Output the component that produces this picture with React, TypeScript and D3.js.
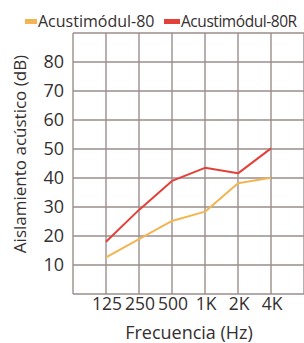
import { useEffect, useRef } from "react";
import * as d3 from "d3";

const categories = ["125", "250", "500", "1K", "2K", "4K"];
const series80 = [12.6, 18.9, 25.2, 28.4, 38.2, 40.1];
const series80R = [18, 29, 39, 43.5, 41.6, 50.2];
const yTicks = [10, 20, 30, 40, 50, 60, 70, 80];
const seriesNames = ["Acustimódul-80", "Acustimódul-80R"];
const seriesColors = ["#f2b552", "#e4403a"];

export default function App() {
  const ref = useRef<SVGSVGElement>(null);

  useEffect(() => {
    document.body.style.margin = "0";
    const svg = d3.select(ref.current);
    svg.selectAll("*").remove();

    const font = "'Open Sans', sans-serif";
    const textColor = "#352f2f";
    const gridColor = "#9b8d8d";

    const x = d3.scaleLinear().domain([-1, 6]).range([73, 304]);
    const y = d3.scaleLinear().domain([0, 90]).range([294, 33]);

    const g = svg.append("g");

    // grid horizontal
    g.selectAll("line.h")
      .data(d3.range(0, 100, 10))
      .join("line")
      .attr("x1", x(-1))
      .attr("x2", x(7))
      .attr("y1", (d) => y(d))
      .attr("y2", (d) => y(d))
      .attr("stroke", gridColor)
      .attr("stroke-width", 1.4);

    // grid vertical
    g.selectAll("line.v")
      .data(d3.range(-1, 7))
      .join("line")
      .attr("x1", (d) => x(d))
      .attr("x2", (d) => x(d))
      .attr("y1", y(0))
      .attr("y2", y(90))
      .attr("stroke", gridColor)
      .attr("stroke-width", 1.4);

    const line = d3
      .line<number>()
      .x((_, i) => x(i))
      .y((d) => y(d));

    [series80, series80R].forEach((s, i) => {
      g.append("path")
        .attr("d", line(s) || "")
        .attr("fill", "none")
        .attr("stroke", seriesColors[i])
        .attr("stroke-width", 2)
        .attr("stroke-linejoin", "round");
    });

    // y tick labels
    g.selectAll("text.y")
      .data(yTicks)
      .join("text")
      .attr("x", 64)
      .attr("y", (d) => y(d))
      .attr("dy", "0.36em")
      .attr("text-anchor", "end")
      .attr("font-family", font)
      .attr("font-size", 18)
      .attr("font-weight", 500)
      .attr("fill", textColor)
      .text((d) => d);

    // x tick labels
    g.selectAll("text.x")
      .data(categories)
      .join("text")
      .attr("x", (_, i) => x(i) + 1)
      .attr("y", 310)
      .attr("text-anchor", "middle")
      .attr("font-family", font)
      .attr("font-size", 17.5)
      .attr("font-weight", 500)
      .attr("fill", textColor)
      .text((d) => d);

    g.append("text")
      .attr("x", 189)
      .attr("y", 339)
      .attr("text-anchor", "middle")
      .attr("font-family", font)
      .attr("font-size", 18)
      .attr("fill", textColor)
      .text("Frecuencia (Hz)");

    g.append("text")
      .attr("transform", `translate(26,${154}) rotate(-90)`)
      .attr("text-anchor", "middle")
      .attr("font-family", font)
      .attr("font-size", 17)
      .attr("fill", textColor)
      .text("Aislamiento acústico (dB)");

    // legend
    const legendX = [25, 164];
    seriesNames.forEach((name, i) => {
      g.append("rect")
        .attr("x", legendX[i])
        .attr("y", 19)
        .attr("width", i === 0 ? 12 : 16)
        .attr("height", 5)
        .attr("fill", seriesColors[i]);
      g.append("text")
        .attr("x", legendX[i] + (i === 0 ? 13 : 17))
        .attr("y", 26.5)
        .attr("font-family", font)
        .attr("font-size", i === 0 ? 16 : 15.5)
        .attr("letter-spacing", i === 0 ? 0 : -0.45)
        .attr("font-weight", 500)
        .attr("fill", textColor)
        .text(name);
    });
  }, []);

  return <svg ref={ref} width={304} height={343} style={{ display: "block", background: "#fff" }} />;
}
